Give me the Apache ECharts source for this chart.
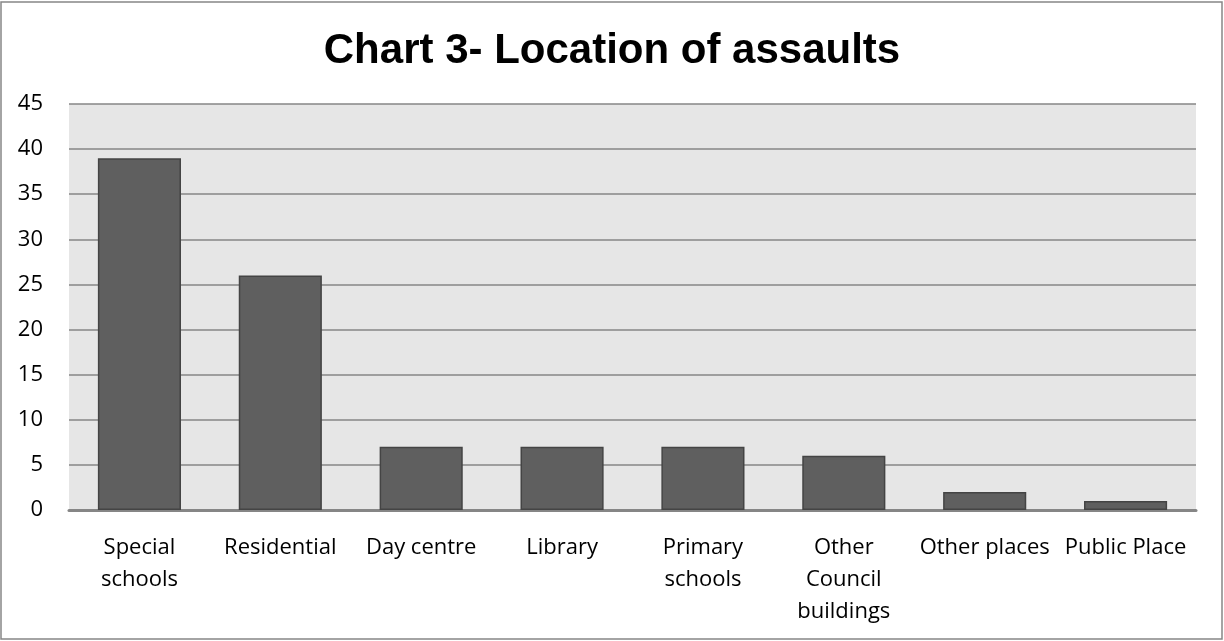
<!DOCTYPE html>
<html><head><meta charset="utf-8">
<script src="https://cdn.jsdelivr.net/npm/echarts@6/dist/echarts.min.js"></script>
<style>html,body{margin:0;padding:0;background:#fff}#c{width:1224px;height:641px}</style>
</head><body><div id="c"></div>
<script>
const categories = ["Special\nschools","Residential","Day centre","Library","Primary\nschools","Other\nCouncil\nbuildings","Other places","Public Place"];
const values = [39,26,7,7,7,6,2,1];
const yTicks = {min:0,max:45,interval:5};
const chart = echarts.init(document.getElementById('c'));
chart.setOption({
  backgroundColor:'#fff',
  animation:false,
  title:{text:'Chart 3- Location of assaults',left:'center',top:25,
    textStyle:{fontFamily:'Liberation Sans',fontWeight:'bold',fontSize:42,color:'#000'}},
  graphic:[{type:'rect',shape:{x:1,y:2,width:1221,height:637},style:{fill:'none',stroke:'#868686',lineWidth:1.5},silent:true}],
  grid:{left:69,right:28,top:104,bottom:131,show:true,backgroundColor:'#e6e6e6',borderWidth:0},
  xAxis:{type:'category',data:categories,
    axisLine:{lineStyle:{color:'#868686',width:3}},axisTick:{show:false},
    axisLabel:{interval:0,color:'#000',fontFamily:'Open Sans',fontSize:22,lineHeight:32,margin:22}},
  yAxis:{type:'value',min:yTicks.min,max:yTicks.max,interval:yTicks.interval,
    axisLine:{show:false},axisTick:{show:false},
    axisLabel:{color:'#000',fontFamily:'Open Sans',fontSize:22,margin:26,padding:[4,0,0,0]},
    splitLine:{lineStyle:{color:'#868686',width:1.5}}},
  series:[{type:'bar',data:values,barCategoryGap:'41%',
    itemStyle:{color:'#5f5f5f',borderColor:'#444',borderWidth:1.5}}]
});
</script></body></html>
